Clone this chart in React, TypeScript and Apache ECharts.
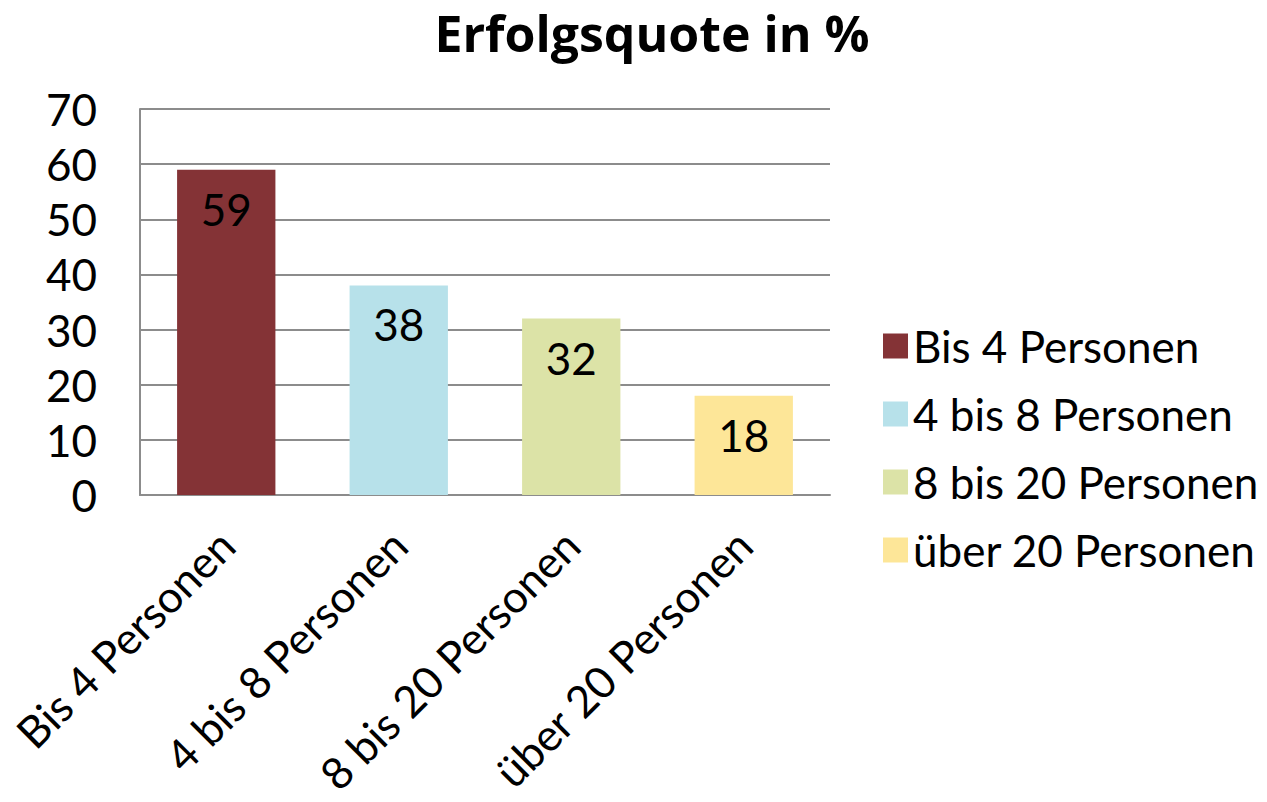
import React, { useEffect, useRef } from "react";
import * as echarts from "echarts";

const categories = ["Bis 4 Personen", "4 bis 8 Personen", "8 bis 20 Personen", "über 20 Personen"];
const values = [59, 38, 32, 18];
const colors = ["#843336", "#B7E1EA", "#DCE3A7", "#FDE698"];
const yTicks = [0, 10, 20, 30, 40, 50, 60, 70];

export default function App() {
  const ref = useRef<HTMLDivElement>(null);
  useEffect(() => {
    if (!ref.current) return;
    const chart = echarts.init(ref.current, null, { renderer: "svg" });
    const font = "Lato, 'Open Sans', sans-serif";
    const series = categories.map((name, i) => ({
      name,
      type: "bar",
      stack: "all",
      barWidth: "57%",
      data: categories.map((_, j) => (j === i ? values[i] : null)),
      itemStyle: { color: colors[i] },
      label: {
        show: true,
        position: "insideTop",
        distance: 17,
        color: "#000",
        fontSize: 44,
        fontFamily: font,
      },
    }));
    chart.setOption({
      animation: false,
      title: {
        text: "Erfolgsquote in %",
        left: 652,
        top: 8,
        padding: 0,
        textAlign: "center",
        textStyle: { fontSize: 50, lineHeight: 50, fontWeight: "bold", fontFamily: "'Open Sans', sans-serif", color: "#000" },
      },
      legend: {
        orient: "vertical",
        left: 878,
        top: 319,
        itemWidth: 25,
        itemHeight: 25,
        itemGap: 24,
        icon: "rect",
        textStyle: { fontSize: 44, fontFamily: font, color: "#000", lineHeight: 44, padding: [0, 0, 0, 0] },
        data: categories,
      },
      grid: { left: 140, right: 437, top: 109, bottom: 307 },
      xAxis: {
        type: "category",
        data: categories,
        axisLine: { show: true, lineStyle: { color: "#8c8c8c", width: 2 } },
        axisTick: { show: false },
        axisLabel: {
          rotate: 45,
          fontSize: 44,
          fontFamily: font,
          color: "#000",
          margin: 42,
          interval: 0,
        },
      },
      yAxis: {
        type: "value",
        min: yTicks[0],
        max: yTicks[yTicks.length - 1],
        interval: 10,
        axisLine: { show: true, lineStyle: { color: "#8c8c8c", width: 2 } },
        axisTick: { show: false },
        splitLine: { show: true, lineStyle: { color: "#8c8c8c", width: 2 } },
        axisLabel: { fontSize: 44, fontFamily: font, color: "#000", margin: 43 },
      },
      series,
    });
    return () => chart.dispose();
  }, []);
  return <div ref={ref} style={{ width: 1267, height: 802, margin: -8 }} />;
}
